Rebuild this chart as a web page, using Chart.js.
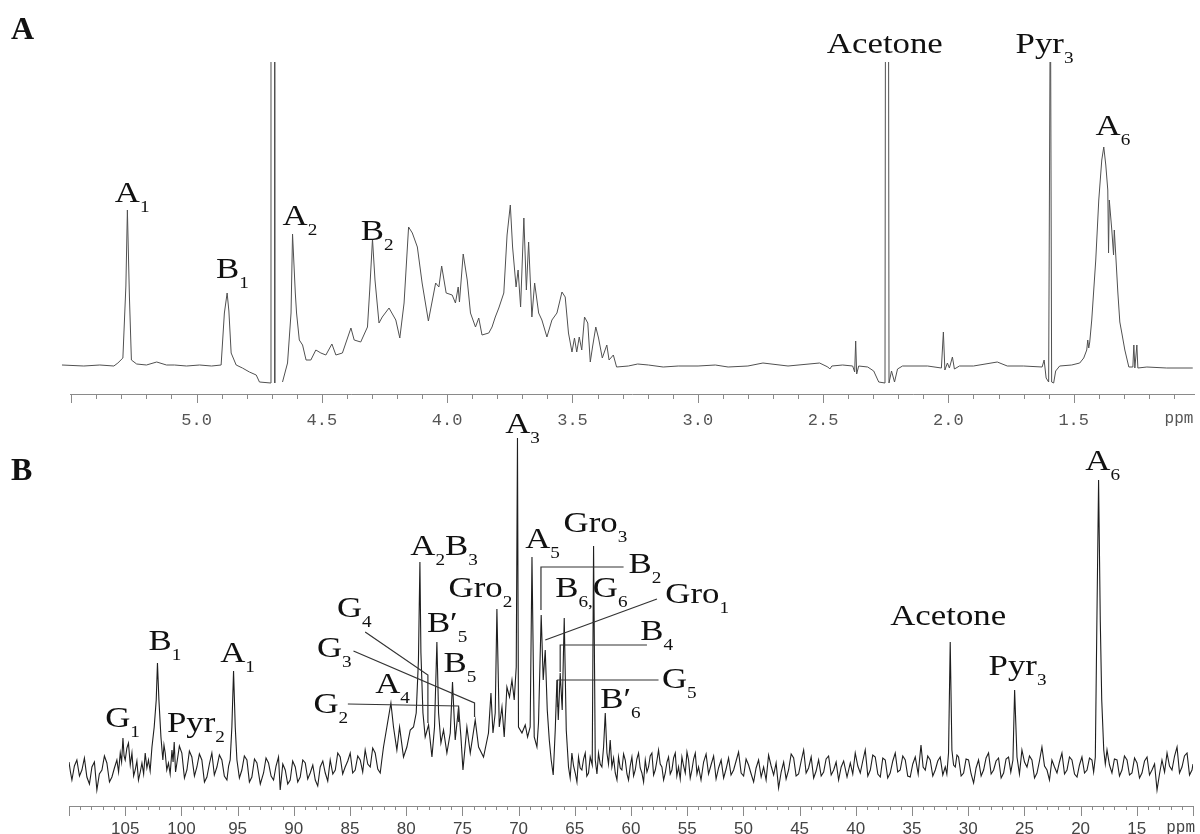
<!DOCTYPE html>
<html><head><meta charset="utf-8">
<script src="https://cdn.jsdelivr.net/npm/chart.js@4.4.1/dist/chart.umd.min.js"></script>
<style>
html,body{margin:0;padding:0;background:#fff;}
#wrap{position:relative;width:1200px;height:834px;background:#fff;}
canvas{position:absolute;left:0;top:0;}
</style></head><body>
<div id="wrap"><canvas id="cA" width="1200" height="834"></canvas><canvas id="cB" width="1200" height="834"></canvas></div>
<script>
// ---------- Panel A : 1H spectrum (ppm, intensity a.u.) ----------
const hPpm = [5.537,5.45,5.386,5.33,5.314,5.294,5.282,5.276,5.268,5.260,5.239,5.20,5.159,5.12,5.088,5.04,4.988,4.94,4.902,4.889,4.878,4.871,4.862,4.842,4.817,4.789,4.762,4.749,4.704,4.703,4.689,4.688,4.67,4.657,4.637,4.623,4.617,4.606,4.601,4.590,4.577,4.563,4.544,4.524,4.504,4.484,4.460,4.444,4.418,4.384,4.371,4.345,4.318,4.309,4.298,4.288,4.272,4.259,4.232,4.205,4.189,4.172,4.154,4.139,4.119,4.100,4.075,4.046,4.033,4.022,4.004,3.980,3.967,3.956,3.951,3.936,3.920,3.907,3.887,3.874,3.861,3.834,3.821,3.808,3.794,3.774,3.761,3.748,3.739,3.725,3.717,3.707,3.694,3.684,3.675,3.662,3.651,3.635,3.622,3.602,3.582,3.562,3.542,3.529,3.516,3.502,3.492,3.483,3.473,3.463,3.452,3.439,3.429,3.420,3.407,3.396,3.381,3.363,3.354,3.337,3.324,3.277,3.24,3.197,3.138,3.078,2.999,2.93,2.879,2.80,2.740,2.640,2.514,2.481,2.473,2.465,2.422,2.382,2.374,2.370,2.366,2.358,2.322,2.298,2.278,2.253,2.251,2.239,2.237,2.227,2.215,2.203,2.183,2.083,2.028,2.020,2.014,2.004,1.996,1.984,1.976,1.956,1.90,1.805,1.765,1.70,1.626,1.618,1.610,1.600,1.593,1.588,1.580,1.572,1.556,1.508,1.476,1.460,1.448,1.444,1.440,1.436,1.428,1.412,1.400,1.388,1.380,1.372,1.364,1.361,1.358,1.348,1.341,1.338,1.332,1.324,1.316,1.308,1.296,1.280,1.264,1.260,1.256,1.248,1.244,1.208,1.129,1.025];
const hInt = [1,0,1,0,3,8,80,156,70,6,2,1,4,1,1,0,1,0,1,53,73,55,13,1,-2,-6,-9,-16,-17,400,400,-17,null,-16,3,53,132,73,53,26,21,6,6,16,13,11,22,11,13,38,26,24,39,76,127,86,43,49,58,46,28,63,139,133,119,83,45,83,79,100,73,71,63,79,64,112,86,53,39,48,31,33,39,49,58,73,131,161,119,79,96,59,148,76,124,49,83,53,46,29,46,53,74,69,33,14,28,14,29,16,49,43,4,19,39,28,8,21,6,11,-1,0,2,1,-1,0,0,1,-1,0,3,0,3,-1,-3,0,1,0,-6,25,-8,0,-1,-5,-16,-17,400,400,-17,-5,-16,-3,0,0,-2,34,-4,3,-2,9,-3,0,0,4,0,0,-1,6,-12,-16,400,-16,-17,-5,0,1,3,8,16,26,18,24,46,106,166,206,219,201,176,113,166,136,111,136,110,74,44,33,16,-1,-1,21,-2,21,-2,-1,-2,-2];
const hTickStep = 0.5;
const hLabelText = ['A_1','B_1','A_2','B_2','Acetone','Pyr_3','A_6'];
const hLabelPpm  = [5.326,4.922,4.657,4.345,2.485,1.732,1.413];
const hLabelInt  = [164,88,141,126,313,313,231];

// ---------- Panel B : 13C spectrum ----------
const cPpm = [110.00,109.87,109.74,109.52,109.30,109.07,108.85,108.63,108.41,108.18,107.96,107.74,107.52,107.30,107.07,106.85,106.63,106.40,106.18,105.96,105.74,105.59,105.44,105.32,105.20,105.10,105.00,104.85,104.71,104.55,104.40,104.25,104.11,103.96,103.82,103.66,103.51,103.36,103.22,103.07,102.93,102.78,102.62,102.42,102.24,102.13,102.00,101.82,101.65,101.55,101.44,101.30,101.15,101.00,100.84,100.74,100.64,100.52,100.40,100.18,99.96,99.73,99.51,99.29,99.07,98.84,98.62,98.40,98.18,97.95,97.73,97.51,97.29,97.07,96.84,96.62,96.40,96.18,95.95,95.80,95.66,95.51,95.36,95.21,95.06,94.84,94.62,94.40,94.17,93.95,93.73,93.50,93.28,92.98,92.69,92.47,92.25,92.02,91.80,91.58,91.36,91.21,90.98,90.76,90.54,90.32,90.10,89.87,89.65,89.43,89.20,88.98,88.76,88.54,88.31,88.09,87.87,87.65,87.42,87.20,86.98,86.76,86.53,86.31,86.09,85.87,85.65,85.43,85.20,84.98,84.76,84.54,84.31,84.09,83.87,83.65,83.42,83.20,82.98,82.76,82.53,82.31,82.17,82.02,
81.72,81.36,81.13,80.83,80.59,80.24,79.94,79.64,79.35,79.11,78.91,78.78,78.69,78.51,78.31,78.01,77.71,77.48,77.27,77.12,76.91,76.68,76.38,76.08,75.88,75.64,75.34,75.13,74.95,74.60,74.30,73.86,73.56,73.12,72.68,72.46,72.28,72.08,71.93,71.72,71.48,71.28,71.04,70.81,70.59,70.39,70.21,70.10,70.01,69.70,69.41,69.20,68.97,68.81,68.61,68.37,68.23,67.99,67.81,67.63,67.45,67.27,67.10,66.92,66.74,66.59,66.47,66.30,66.12,65.94,65.76,
65.56,65.41,65.26,65.11,64.96,64.81,64.67,64.52,64.37,64.22,64.07,63.93,63.78,63.63,63.45,63.33,63.18,63.03,62.89,62.74,62.59,62.44,62.29,62.14,62.00,61.85,61.70,61.55,61.40,61.25,61.11,60.96,60.81,60.66,60.51,60.36,60.22,60.07,59.92,59.77,59.62,59.48,59.33,59.18,59.03,58.88,58.73,58.58,58.44,58.29,58.14,57.99,57.84,57.70,57.55,57.40,57.25,57.10,56.95,56.80,56.66,56.51,56.36,56.21,56.06,55.92,55.77,55.62,55.47,55.32,55.17,55.02,54.88,54.73,54.58,54.43,54.28,54.13,53.99,53.77,53.54,53.32,53.10,52.88,52.65,52.43,52.21,51.98,51.76,51.54,51.32,51.10,50.87,50.65,50.43,50.20,49.98,49.76,49.54,49.31,49.09,48.87,48.65,48.42,48.20,47.98,47.76,47.53,47.31,47.09,46.87,46.64,46.42,46.20,45.98,45.75,45.53,45.31,45.09,44.86,44.64,44.42,44.20,43.97,43.75,43.53,43.31,43.08,42.86,42.64,42.42,42.19,41.97,41.75,41.53,41.30,41.08,40.78,40.49,40.27,40.05,39.82,39.60,39.38,39.16,38.93,38.71,38.49,38.27,38.04,37.82,37.60,37.38,37.16,36.94,36.71,36.49,36.27,36.05,35.82,35.60,35.38,35.16,34.93,34.71,34.45,34.20,34.01,33.82,33.60,33.38,33.15,32.93,32.71,32.49,32.26,32.04,31.90,31.75,31.60,31.45,31.30,31.15,31.00,30.86,30.63,30.41,30.19,29.97,29.74,29.52,29.30,29.08,28.85,28.63,28.41,28.19,27.96,27.74,27.52,27.30,27.07,26.85,26.63,26.41,26.21,26.02,25.87,25.66,25.44,25.22,24.99,24.77,24.55,24.33,24.10,23.88,23.66,23.44,23.21,22.99,22.77,22.55,22.32,22.10,21.88,21.66,21.43,21.21,20.99,20.77,20.54,20.32,20.10,19.88,19.65,19.43,19.21,18.99,18.84,18.69,18.56,18.40,18.25,18.12,17.94,17.80,17.65,17.43,17.21,16.99,16.76,16.54,16.32,16.10,15.87,15.65,15.43,15.20,14.98,14.76,14.54,14.31,14.09,13.87,13.65,13.42,13.20,12.98,12.76,12.53,12.31,12.09,11.87,11.64,11.42,11.20,10.98,10.76,10.53,10.31,10.09,10.00];
const cInt = [8,-2,-10,4,10,-6,0,12,-7,-14,3,8,-20,-4,0,14,7,-12,-7,2,10,-2,17,8,32,14,10,22,27,5,17,-6,0,9,-10,-2,7,-4,17,2,10,-1,23,43,70,107,70,33,10,25,17,0,7,-4,20,8,28,-2,7,24,17,-8,0,19,13,-6,3,16,10,-12,-7,6,17,-5,3,15,10,-6,-10,4,10,43,99,43,10,-8,0,14,10,-12,-7,11,7,-14,-3,12,7,-6,-10,4,13,-20,6,0,-14,-10,9,3,-12,-7,10,7,-9,-3,5,-10,-16,3,9,-3,-11,10,-4,0,17,13,-4,3,9,17,-3,0,14,10,-2,20,6,3,22,17,1,-3,10,23,
43,67,43,20,43,13,23,40,43,57,110,208,117,57,33,45,13,43,128,57,27,40,17,37,88,30,63,33,0,43,17,50,23,13,37,77,37,57,161,43,63,33,83,73,90,70,103,332,43,37,45,33,43,213,33,23,47,155,90,120,60,30,10,-5,40,90,50,97,60,152,40,
3,-8,17,4,-3,-12,13,2,0,11,17,-6,-3,13,5,224,10,-4,17,6,3,23,57,17,6,30,3,12,-3,-10,13,2,0,16,10,-4,-10,4,13,-6,0,11,17,2,-3,-12,10,-2,3,14,17,-5,0,9,20,6,3,-10,-3,8,13,-4,0,12,17,-6,3,-9,13,4,-3,18,10,-8,0,11,17,-4,3,-10,8,16,-4,5,14,-9,2,10,-8,1,12,-5,0,9,18,-3,-6,11,5,-4,-12,2,10,-7,3,-10,15,4,-5,7,-18,-2,8,-9,0,16,12,-6,-4,9,20,-3,2,13,-8,-1,10,-6,-2,11,14,-5,0,8,-10,3,9,-7,7,-4,17,4,-3,9,20,-6,0,15,13,-4,-7,12,10,-8,-3,9,17,-2,0,14,10,-6,-7,6,13,-4,25,3,0,14,10,-6,0,9,13,-5,3,-4,17,128,20,5,3,15,13,-6,-3,11,10,-4,-13,2,10,-6,0,12,17,-4,0,9,12,-8,-3,11,13,-2,10,80,13,-4,20,8,3,14,10,-8,-3,9,23,4,0,-10,10,3,-3,8,17,-4,0,13,10,-4,-7,5,13,-3,0,12,10,-2,13,140,290,150,70,20,6,20,5,-3,11,10,-6,0,14,10,-5,-3,12,7,-8,-3,9,13,-5,0,6,-20,-4,10,-2,17,4,0,14,23,-3,3,14,17,-5,0,6];
const cTickStep = 5;
const cLabelText = ['G_1','B_1','Pyr_2','A_1','G_4','G_3','G_2','A_4','A_2B_3','B\u2032_5','B_5','Gro_2','A_3','A_5','Gro_3','B_2','B_6,G_6','Gro_1','B_4','G_5','B\u2032_6','Acetone','Pyr_3','A_6'];
const cLabelPpm  = [106.78,102.93,101.29,96.55,86.16,87.94,88.25,82.76,79.64,78.16,76.68,76.23,71.19,69.41,66.00,60.22,66.74,56.95,59.18,57.25,62.74,36.94,28.19,19.58];
const cLabelInt  = [43,120,38,108,153,113,57,77,215,138,98,173,337,222,238,197,173,167,130,82,62,145,95,300];
const cLeadPpm = [[83.65,78.07,78.07],[84.69,73.92,73.92],[85.19,75.34,75.34],[60.66,68.01,68.01],[57.69,67.63],[58.58,66.30,66.30],[57.55,66.54,66.54]];
const cLeadInt = [[138,95,47],[119,67,53],[66,64,48],[203,203,160],[171,130],[125,125,98],[90,90,63]];

// ---------- helpers ----------
function segs(t){
  const out=[]; let cur=''; let sub=false;
  for (const ch of t){
    if (ch==='_'){ if(cur) out.push([cur,sub]); cur=''; sub=true; continue; }
    if (sub && /[A-Za-z]/.test(ch)){ out.push([cur,true]); cur=''; sub=false; }
    cur+=ch;
  }
  if (cur) out.push([cur,sub]);
  return out;
}
function drawLabel(ctx,x,y,t){
  ctx.save(); ctx.translate(x,y); ctx.scale(1.2,1);
  ctx.fillStyle='#111'; ctx.textAlign='left'; ctx.textBaseline='alphabetic';
  let cx=0;
  for (const [s,sub] of segs(t)){
    ctx.font = sub ? '16px "Liberation Serif"' : '29px "Liberation Serif"';
    ctx.fillText(s,cx,sub?10:0);
    cx += ctx.measureText(s).width;
  }
  ctx.restore();
}
function pairs(xs,ys){ return xs.map((x,i)=>({x:x,y:ys[i]})); }

function makePlugin(cfg){
  return {
    id:'deco'+cfg.letter,
    afterDraw(chart){
      const ctx=chart.ctx, xs=chart.scales.x, ys=chart.scales.y, ca=chart.chartArea;
      ctx.save();
      ctx.strokeStyle=cfg.tickColor; ctx.lineWidth=1;
      for (let k=cfg.kMin;k<=cfg.kMax;k++){
        const v=k*cfg.minorStep;
        const px=Math.round(xs.getPixelForValue(v))+0.5;
        const major=(k%cfg.majorEvery===0);
        ctx.beginPath(); ctx.moveTo(px,ca.bottom); ctx.lineTo(px,ca.bottom+(major?cfg.majorLen:cfg.minorLen)); ctx.stroke();
      }
      ctx.fillStyle=cfg.tickTextColor; ctx.font=cfg.ppmFont; ctx.textAlign='center'; ctx.textBaseline='middle';
      ctx.fillText('ppm', xs.getPixelForValue(cfg.ppmAt), ca.bottom+cfg.ppmDy);
      ctx.strokeStyle='#333'; ctx.lineWidth=1.2;
      (cfg.leadP||[]).forEach((pp,i)=>{
        ctx.beginPath();
        pp.forEach((p,j)=>{ const X=xs.getPixelForValue(p), Y=ys.getPixelForValue(cfg.leadI[i][j]); if(j===0) ctx.moveTo(X,Y); else ctx.lineTo(X,Y); });
        ctx.stroke();
      });
      cfg.text.forEach((t,i)=> drawLabel(ctx, xs.getPixelForValue(cfg.lp[i]), ys.getPixelForValue(cfg.li[i]), t));
      ctx.fillStyle='#111'; ctx.font='bold 32px "Liberation Serif"'; ctx.textAlign='left'; ctx.textBaseline='alphabetic';
      ctx.fillText(cfg.letter, 11, cfg.letterY);
      ctx.restore();
    }
  };
}

const AXH_A = 40, AXH_B = 28;
new Chart(document.getElementById('cA'), {
  type:'line',
  data:{datasets:[{data:pairs(hPpm,hInt), borderColor:'#505050', borderWidth:1, pointRadius:0, tension:0, spanGaps:false,
    clip:{left:false, top:0, right:0, bottom:false}}]},
  options:{
    responsive:false, animation:false, events:[],
    layout:{padding:{left:70, right:3, top:62, bottom:834-394-AXH_A}},
    plugins:{legend:{display:false}, tooltip:{enabled:false}},
    scales:{
      x:{type:'linear', reverse:true, min:1.02, max:5.505,
        afterFit:s=>{s.height=AXH_A;},
        border:{display:true, color:'#8a8a8a', width:1},
        grid:{display:true, drawOnChartArea:false, drawTicks:true, tickLength:10, tickColor:'rgba(0,0,0,0)'},
        ticks:{stepSize:0.1, autoSkip:false, maxRotation:0, padding:6, color:'#555',
          font:{family:'"Liberation Mono", "DejaVu Sans Mono", monospace', size:17},
          callback:(v)=>{ const r=Math.round(v/ hTickStep); return (Math.abs(v/hTickStep-r)<1e-6 && v>1.2 && v<5.3) ? v.toFixed(1) : ''; }}},
      y:{display:false, min:-28, max:304}
    }
  },
  plugins:[makePlugin({letter:'A', letterY:39, kMin:11, kMax:55, minorStep:0.1, majorEvery:5, majorLen:9, minorLen:5,
    tickColor:'#8a8a8a', tickTextColor:'#555', ppmFont:'16px "Liberation Mono", monospace', ppmAt:1.08, ppmDy:25,
    text:hLabelText, lp:hLabelPpm, li:hLabelInt})]
});

new Chart(document.getElementById('cB'), {
  type:'line',
  data:{datasets:[{data:pairs(cPpm,cInt), borderColor:'#1e1e1e', borderWidth:1.1, pointRadius:0, tension:0}]},
  options:{
    responsive:false, animation:false, events:[],
    layout:{padding:{left:69, right:7, top:420, bottom:834-806-AXH_B}},
    plugins:{legend:{display:false}, tooltip:{enabled:false}},
    scales:{
      x:{type:'linear', reverse:true, min:10, max:110,
        afterFit:s=>{s.height=AXH_B;},
        border:{display:true, color:'#8a8a8a', width:1},
        grid:{display:true, drawOnChartArea:false, drawTicks:true, tickLength:10, tickColor:'rgba(0,0,0,0)'},
        ticks:{stepSize:1, autoSkip:false, maxRotation:0, padding:3, color:'#444',
          font:{family:'"Liberation Sans", Arial, sans-serif', size:17},
          callback:(v)=>{ const r=Math.round(v); return (Math.abs(v-r)<1e-6 && r%cTickStep===0 && v>12 && v<108) ? String(r) : ''; }}},
      y:{display:false, min:-36, max:350}
    }
  },
  plugins:[makePlugin({letter:'B', letterY:480, kMin:10, kMax:110, minorStep:1, majorEvery:5, majorLen:10, minorLen:4,
    tickColor:'#8a8a8a', tickTextColor:'#444', ppmFont:'16px "Liberation Mono", monospace', ppmAt:11.1, ppmDy:22,
    text:cLabelText, lp:cLabelPpm, li:cLabelInt, leadP:cLeadPpm, leadI:cLeadInt})]
});
</script>
</body></html>
